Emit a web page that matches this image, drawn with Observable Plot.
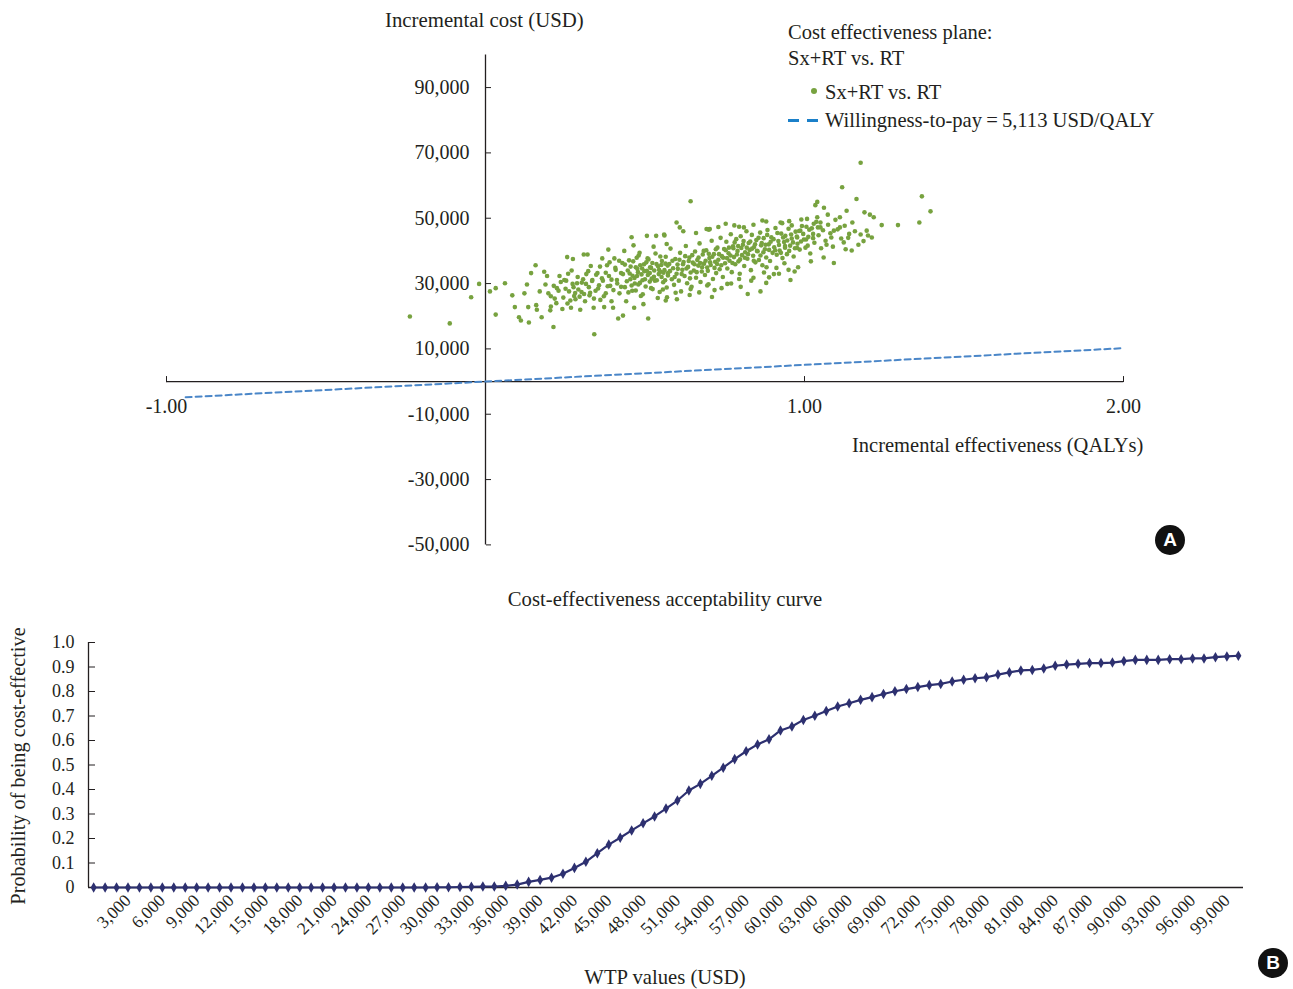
<!DOCTYPE html>
<html>
<head>
<meta charset="utf-8">
<script src="https://cdn.jsdelivr.net/npm/d3@7"></script>
<script src="https://cdn.jsdelivr.net/npm/@observablehq/plot@0.6"></script>
<style>
  html, body { margin: 0; padding: 0; background: #fff; }
  #wrap { position: relative; width: 1293px; height: 989px; background: #fff; overflow: hidden;
          font-family: "Liberation Serif", "DejaVu Serif", serif; color: #231f20; }
  #wrap svg { position: absolute; left: 0; }
  .t { position: absolute; white-space: nowrap; transform: translateY(-50%); line-height: 1.1; }
  .badge { position: absolute; width: 30px; height: 30px; border-radius: 50%; background: #111; color: #fff;
           font-family: "Liberation Sans", "DejaVu Sans", sans-serif; font-weight: bold; font-size: 19px;
           display: flex; align-items: center; justify-content: center; transform: translate(-50%, -50%); }
</style>
</head>
<body>
<div id="wrap"></div>
<script>
// ---------- Panel A data: cost-effectiveness plane ----------
// [incremental effectiveness (QALYs), incremental cost (thousand USD)]
const psaPoints = [
  [-0.237,19.9],[-0.112,17.8],[-0.045,25.8],[-0.020,29.9],[0.014,27.6],[0.032,28.6],[0.032,20.5],[0.061,30.1],
  [0.084,26.4],[0.092,22.8],[0.105,19.7],[0.111,18.7],[0.122,27.0],[0.130,29.7],[0.134,22.8],[0.136,18.1],
  [0.143,33.2],[0.157,35.6],[0.159,23.4],[0.161,22.0],[0.170,27.6],[0.176,19.7],[0.184,33.6],[0.188,29.7],
  [0.193,32.3],[0.197,27.0],[0.203,21.8],[0.205,23.0],[0.213,16.7],[0.217,25.4],[0.224,28.6],[0.232,32.3],
  [0.241,22.2],[0.247,31.1],[0.253,30.9],[0.256,38.1],[0.257,23.9],[0.262,27.6],[0.268,22.6],[0.270,34.0],
  [0.274,37.5],[0.276,28.9],[0.278,26.2],[0.282,25.2],[0.287,30.1],[0.291,28.2],[0.297,22.0],[0.301,27.4],
  [0.306,31.3],[0.308,38.9],[0.312,24.6],[0.316,32.9],[0.320,38.9],[0.324,28.9],[0.326,26.4],[0.330,35.4],
  [0.335,31.1],[0.339,22.6],[0.341,14.5],[0.345,27.8],[0.351,33.2],[0.356,29.5],[0.360,25.0],[0.366,37.7],
  [0.368,30.9],[0.372,22.8],[0.377,27.0],[0.381,35.6],[0.385,40.4],[0.387,32.3],[0.391,29.3],[0.395,24.6],
  [0.400,22.6],[0.404,37.7],[0.408,34.2],[0.412,31.1],[0.416,19.3],[0.420,27.0],[0.425,33.2],[0.429,36.3],
  [0.431,20.2],[0.435,40.0],[0.437,28.9],[0.441,24.6],[0.446,34.0],[0.450,37.1],[0.454,31.3],[0.458,44.2],
  [0.460,27.8],[0.464,41.7],[0.466,22.6],[0.471,35.0],[0.475,32.3],[0.479,29.7],[0.483,39.4],[0.487,26.2],
  [0.491,34.6],[0.495,23.7],[0.500,31.3],[0.506,44.6],[0.508,37.7],[0.510,19.3],[0.515,33.2],[0.519,28.6],
  [0.523,36.3],[0.527,41.3],[0.531,30.9],[0.535,44.6],[0.540,25.6],[0.544,34.2],[0.548,38.3],[0.552,32.0],
  [0.556,28.2],[0.560,45.0],[0.564,36.1],[0.568,42.1],[0.572,33.2],
  [0.643,55.2],[1.176,67.0],[1.118,59.5],[1.368,56.7],[1.395,52.1],[1.360,48.7],[1.293,47.9],[1.242,47.9],
  [1.163,55.9],[1.092,36.3],[1.217,50.3],[1.205,51.1],[1.188,51.8],[1.211,44.1],[1.195,46.2],[1.199,44.7],
  [1.169,41.9],[1.148,40.1],[1.129,40.5],[1.123,42.6],[1.150,48.7],[1.140,45.2],[1.132,52.3],[1.111,50.3],
  [1.111,47.2],[1.092,46.2],[1.084,44.1],[1.069,41.9],[1.073,51.1],[1.061,53.2],[1.040,55.0],[1.034,54.0],
  [1.050,48.7],[1.050,47.2],[1.040,50.3],[1.029,48.3],[1.027,45.2],[1.008,49.8],[1.006,47.4],[1.010,41.6],
  [1.005,43.5],[0.987,46.2],[0.977,44.1],[0.977,40.9],[0.969,33.7],[0.956,31.1],[0.937,36.2],[0.939,41.5],
  [0.925,48.7],[0.952,49.1],[0.912,34.8],[0.904,32.9],[0.889,31.9],[0.873,33.4],[0.862,27.6],[0.822,26.8],
  [0.881,35.0],[0.868,49.3],[0.810,47.2],[0.795,47.4],[0.753,48.3],[0.693,46.7],[0.703,46.7],[0.599,48.7],
  [0.609,47.2],[0.561,44.7],[0.596,27.2],[0.569,25.8],[0.565,24.8],[0.643,28.3],[0.695,29.4],[0.718,28.0],
  [0.758,29.9],[0.795,31.4],[0.833,30.9],
  [0.452,33.1],[0.458,29.4],[0.463,36.8],[0.467,31.7],[0.471,27.9],[0.476,34.5],[0.480,38.6],[0.484,30.2],
  [0.489,32.8],[0.493,26.7],[0.497,35.9],[0.502,29.1],[0.506,33.9],[0.511,37.4],[0.515,30.6],[0.519,34.8],
  [0.524,28.3],[0.528,32.1],[0.533,39.2],[0.537,31.0],[0.541,35.3],[0.546,27.4],[0.549,33.6],
  [0.553,36.9],[0.557,30.4],[0.561,34.1],[0.565,38.2],[0.568,28.8],[0.572,32.5],[0.576,36.0],[0.580,40.7],
  [0.584,31.3],[0.588,34.7],[0.591,29.6],[0.595,37.5],[0.599,33.0],[0.602,35.8],[0.606,30.9],[0.610,39.4],
  [0.613,27.6],[0.617,34.2],[0.621,36.6],[0.624,32.3],[0.628,41.5],[0.632,30.1],[0.635,35.1],[0.639,38.0],
  [0.643,33.4],[0.646,29.0],[0.650,36.4],
  [0.653,34.0],[0.657,39.8],[0.660,31.8],[0.664,37.2],[0.667,35.5],[0.671,42.3],[0.674,30.5],[0.678,33.7],
  [0.681,38.9],[0.685,36.1],[0.688,32.6],[0.692,40.2],[0.695,34.9],[0.699,29.8],[0.702,37.8],[0.706,35.7],
  [0.709,43.1],[0.713,31.4],[0.716,39.0],[0.720,36.7],[0.723,33.2],[0.727,41.0],[0.730,37.3],[0.734,34.4],
  [0.737,44.0],[0.741,38.4],[0.744,32.0],[0.748,40.6],
  [0.751,36.2],[0.755,42.8],[0.758,34.6],[0.762,39.3],[0.765,37.0],[0.769,45.1],[0.772,33.5],[0.776,41.4],
  [0.779,38.1],[0.783,35.9],[0.786,43.6],[0.790,40.0],[0.793,36.8],[0.797,33.0],[0.800,44.5],[0.804,38.7],
  [0.807,41.9],[0.811,35.4],[0.814,39.6],[0.818,46.0],[0.821,37.6],[0.825,42.4],[0.828,40.3],[0.832,34.1],
  [0.835,44.9],[0.839,38.5],[0.842,41.2],[0.846,36.5],[0.849,43.3],
  [0.853,39.9],[0.857,37.2],[0.861,45.6],[0.864,41.7],[0.868,35.6],[0.872,43.9],[0.876,40.5],[0.880,38.0],
  [0.884,46.4],[0.888,42.0],[0.892,36.9],[0.896,44.2],[0.900,39.4],[0.905,41.1],[0.909,47.0],[0.913,38.8],
  [0.918,43.0],[0.922,40.1],[0.927,45.3],[0.931,37.8],[0.936,42.7],[0.940,44.6],[0.945,39.0],[0.950,46.8],
  [0.955,41.6],[0.960,43.8],[0.966,38.3],[0.972,45.9],[0.978,42.2],[0.985,40.4],[0.992,47.6],[0.998,43.5],
  [0.302,30.3],[0.309,26.8],[0.315,29.9],[0.322,33.8],[0.328,27.2],[0.334,30.8],[0.340,25.4],[0.347,32.7],
  [0.353,28.5],[0.359,35.2],[0.365,31.6],[0.371,26.1],[0.377,33.3],[0.383,29.2],[0.389,36.5],[0.395,31.2],
  [0.401,28.0],[0.407,34.8],[0.413,30.0],[0.419,37.0],[0.425,29.0],[0.431,32.9],[0.437,35.8],[0.443,30.7],
  [0.448,27.3],
  [1.012,44.3],[1.018,39.2],[1.023,46.9],[1.031,42.5],[1.037,48.9],[1.044,44.8],[1.052,40.8],[1.058,46.3],
  [1.066,43.1],[1.074,48.0],[1.081,45.4],[1.089,41.3],[1.097,49.5],[1.104,46.6],[1.115,43.8],[1.126,47.7],
  [1.137,44.0],[1.158,46.0],[1.176,45.0],[1.185,43.0],
  [0.620,46.0],[0.660,45.5],[0.700,46.5],[0.730,47.3],[0.780,47.8],[0.840,48.0],[0.880,49.0],[0.930,48.5],
  [0.960,47.8],[0.990,49.6],
  [0.600,25.2],[0.640,26.5],[0.670,27.3],[0.710,25.9],[0.740,28.6],[0.770,30.0],[0.800,29.0],[0.840,31.8],
  [0.880,30.2],[0.920,33.0],[0.950,34.2],[0.980,35.0],[1.020,36.8],[1.060,38.0],
  [0.205,26.1],[0.214,29.3],[0.222,24.0],[0.229,27.8],[0.236,30.5],[0.244,25.7],[0.251,28.4],[0.259,33.0],
  [0.266,24.8],[0.273,29.9],[0.281,27.1],[0.289,32.0],[0.295,26.0],
  [0.455,35.2],[0.461,32.4],[0.468,30.0],[0.474,37.9],[0.478,33.5],[0.485,35.6],[0.492,31.0],[0.498,33.8],
  [0.504,36.5],[0.509,32.6],[0.516,35.0],[0.521,31.5],[0.529,34.0],[0.536,36.0],[0.543,32.9],[0.551,35.7],
  [0.558,33.3],[0.563,31.0],[0.571,35.5],[0.578,33.8],[0.586,37.0],[0.593,32.0],
  [0.603,34.5],[0.608,37.3],[0.615,32.9],[0.619,35.9],[0.626,38.4],[0.630,34.6],[0.637,36.9],[0.641,31.6],
  [0.648,38.7],[0.655,35.9],[0.662,33.5],[0.668,38.0],[0.673,36.3],[0.679,35.0],[0.684,40.0],[0.690,37.0],
  [0.697,33.9],[0.700,39.1],[0.704,36.5],[0.711,38.2],[0.718,34.8],[0.722,40.5],[0.726,36.0],[0.732,39.0],
  [0.739,35.6],[0.745,37.9],
  [0.753,40.2],[0.757,37.8],[0.763,41.0],[0.768,38.6],[0.774,36.3],[0.777,40.8],[0.781,42.6],[0.788,38.9],
  [0.792,41.5],[0.798,37.4],[0.802,40.9],[0.809,43.0],[0.813,37.9],[0.819,41.0],[0.823,39.0],[0.830,42.9],
  [0.836,40.7],[0.841,37.0],[0.845,42.0],[0.851,40.0],[0.856,44.0],[0.862,38.6],[0.866,42.4],[0.871,39.6],
  [0.878,41.9],[0.883,44.9],[0.889,40.3],[0.894,42.8],
  [0.903,43.6],[0.908,40.2],[0.915,45.5],[0.920,41.8],[0.926,39.4],[0.933,44.1],[0.939,41.0],[0.946,43.2],
  [0.952,40.0],[0.958,45.0],[0.964,42.6],[0.970,40.8],[0.976,44.4],[0.983,46.1],[0.989,42.9],[0.996,45.2],
  [1.003,41.0],[1.015,46.5],[1.027,43.9],[1.042,47.2]
];
const wtpThreshold = 5113;              // USD per QALY
const wtpLineQalys = [-0.94, 2.0];      // extent of the willingness-to-pay line
const xTicksA = [-1, 1, 2];
const yTicksA = [-50000, -30000, -10000, 10000, 30000, 50000, 70000, 90000];

// ---------- Panel B data: cost-effectiveness acceptability curve ----------
const wtpValues = [
  0,1000,2000,3000,4000,5000,6000,7000,8000,9000,10000,11000,12000,13000,14000,15000,16000,17000,18000,19000,
  20000,21000,22000,23000,24000,25000,26000,27000,28000,29000,30000,31000,32000,33000,34000,35000,36000,37000,
  38000,39000,40000,41000,42000,43000,44000,45000,46000,47000,48000,49000,50000,51000,52000,53000,54000,55000,
  56000,57000,58000,59000,60000,61000,62000,63000,64000,65000,66000,67000,68000,69000,70000,71000,72000,73000,
  74000,75000,76000,77000,78000,79000,80000,81000,82000,83000,84000,85000,86000,87000,88000,89000,90000,91000,
  92000,93000,94000,95000,96000,97000,98000,99000,100000
];
const probCostEffective = [
  0,0,0,0,0,0,0,0,0,0,0,0,0,0,0,0,0,0,0,0,
  0,0,0,0,0,0,0,0,0,0,0.001,0.001,0.002,0.003,0.004,0.004,0.007,0.012,
  0.023,0.031,0.040,0.056,0.080,0.105,0.140,0.175,0.203,0.233,0.262,0.290,0.322,0.355,0.396,0.423,0.456,0.489,
  0.524,0.556,0.584,0.605,0.641,0.657,0.684,0.701,0.720,0.739,0.752,0.766,0.777,0.790,0.801,0.810,0.818,0.826,
  0.831,0.841,0.848,0.854,0.858,0.869,0.878,0.886,0.888,0.894,0.905,0.910,0.913,0.916,0.916,0.918,0.924,0.929,
  0.929,0.929,0.932,0.932,0.935,0.935,0.940,0.943,0.946
];
const wtpTickLabels = [3000,6000,9000,12000,15000,18000,21000,24000,27000,30000,33000,36000,39000,42000,45000,
  48000,51000,54000,57000,60000,63000,66000,69000,72000,75000,78000,81000,84000,87000,90000,93000,96000,99000];
const yTicksB = [0, 0.1, 0.2, 0.3, 0.4, 0.5, 0.6, 0.7, 0.8, 0.9, 1.0];

// ---------- colours ----------
const green = "#77a23f";
const wtpBlue = "#4a86c8";
const legendBlue = "#1b80c9";
const navy = "#2d3070";
const axisInk = "#231f20";
const serif = "'Liberation Serif', 'DejaVu Serif', serif";

// ---------- build tables ----------
const scatter = psaPoints.map(([q, c]) => ({q, cost: c * 1000}));
const wtpLine = wtpLineQalys.map(q => ({q, cost: q * wtpThreshold}));
const ceac = wtpValues.map((w, i) => ({wtp: w, p: probCostEffective[i]}));
const usd = d => d.toLocaleString("en-US");

const wrap = document.getElementById("wrap");

// ---------- Panel A ----------
const plotA = Plot.plot({
  width: 1293, height: 570,
  marginLeft: 166, marginRight: 170, marginTop: 54.4, marginBottom: 25.6,
  x: {domain: [-1, 2]},
  y: {domain: [-50000, 100000]},
  style: {fontFamily: serif, fontSize: "20px", color: axisInk, background: "transparent", overflow: "visible"},
  marks: [
    Plot.ruleY([0], {x1: -1, x2: 2, stroke: axisInk, strokeWidth: 1.3}),
    Plot.ruleX([0], {y1: -50000, y2: 100000, stroke: axisInk, strokeWidth: 1.3}),
    Plot.axisX(xTicksA, {y: 0, anchor: "top", tickSize: 6, text: null, label: null, stroke: axisInk}),
    Plot.axisX(xTicksA, {y: 0, anchor: "bottom", tickSize: 0, tickPadding: 17, label: null,
      tickFormat: d => d.toFixed(2), fontSize: 20}),
    Plot.axisY(yTicksA, {x: 0, anchor: "right", tickSize: 5, text: null, label: null, stroke: axisInk}),
    Plot.axisY(yTicksA, {x: 0, anchor: "left", tickSize: 0, tickPadding: 16, label: null,
      tickFormat: usd, fontSize: 20}),
    Plot.line(wtpLine, {x: "q", y: "cost", stroke: wtpBlue, strokeWidth: 2, strokeDasharray: "6,4"}),
    Plot.dot(scatter, {x: "q", y: "cost", r: 2.3, fill: green, stroke: "none"})
  ]
});
plotA.style.top = "0px";
wrap.appendChild(plotA);

// ---------- Panel B ----------
const plotB = Plot.plot({
  width: 1293, height: 419,
  marginLeft: 88, marginRight: 50, marginTop: 72, marginBottom: 102,
  x: {domain: [-450, 100450]},
  y: {domain: [0, 1]},
  style: {fontFamily: serif, fontSize: "18px", color: axisInk, background: "transparent", overflow: "visible"},
  marks: [
    Plot.ruleY([0], {stroke: axisInk, strokeWidth: 1.3}),
    Plot.ruleX([-450], {stroke: axisInk, strokeWidth: 1.3}),
    Plot.axisY(yTicksB, {x: -450, anchor: "right", tickSize: 6, text: null, label: null, stroke: axisInk}),
    Plot.axisY(yTicksB, {anchor: "left", tickSize: 0, tickPadding: 14, label: null,
      tickFormat: d => d === 0 ? "0" : d.toFixed(1), fontSize: 18}),
    Plot.axisX(wtpTickLabels, {anchor: "bottom", tickSize: 0, tickPadding: 10, tickRotate: -45, label: null,
      tickFormat: usd, fontSize: 17.5}),
    Plot.line(ceac, {x: "wtp", y: "p", stroke: navy, strokeWidth: 2.2}),
    Plot.dot(ceac, {x: "wtp", y: "p", symbol: "diamond", r: 3.2, fill: navy, stroke: "none"})
  ]
});
plotB.style.top = "570px";
wrap.appendChild(plotB);

// ---------- text & legend ----------
function addText(txt, left, top, size, extra = "") {
  const d = document.createElement("div");
  d.className = "t";
  d.textContent = txt;
  d.style.cssText += `left:${left}px;top:${top}px;font-size:${size}px;${extra}`;
  wrap.appendChild(d);
  return d;
}
addText("Incremental cost (USD)", 385, 20, 20.8);
addText("Cost effectiveness plane:", 788, 32, 20.5);
addText("Sx+RT vs. RT", 788, 58, 20.5);
addText("Sx+RT vs. RT", 825, 92, 20.5);
addText("Willingness-to-pay\u2009=\u20095,113 USD/QALY", 825, 120, 20.6);
addText("Incremental effectiveness (QALYs)", 852, 445, 20.5);
addText("Cost-effectiveness acceptability curve", 665, 599, 20.7, "transform:translate(-50%,-50%);");
addText("WTP values (USD)", 665, 977, 20.7, "transform:translate(-50%,-50%);");
addText("Probability of being cost-effective", 18, 766, 20.3, "transform:translate(-50%,-50%) rotate(-90deg);");

// legend symbols
const dot = document.createElement("div");
dot.style.cssText = `position:absolute;left:${814-3}px;top:${91-3}px;width:6px;height:6px;border-radius:50%;background:${green};`;
wrap.appendChild(dot);
for (const x0 of [788, 807]) {
  const dash = document.createElement("div");
  dash.style.cssText = `position:absolute;left:${x0}px;top:119px;width:11px;height:2.5px;background:${legendBlue};`;
  wrap.appendChild(dash);
}

// panel badges
for (const [lab, cx, cy] of [["A", 1170, 540], ["B", 1273, 963]]) {
  const b = document.createElement("div");
  b.className = "badge";
  b.textContent = lab;
  b.style.left = cx + "px";
  b.style.top = cy + "px";
  wrap.appendChild(b);
}
</script>
</body>
</html>
